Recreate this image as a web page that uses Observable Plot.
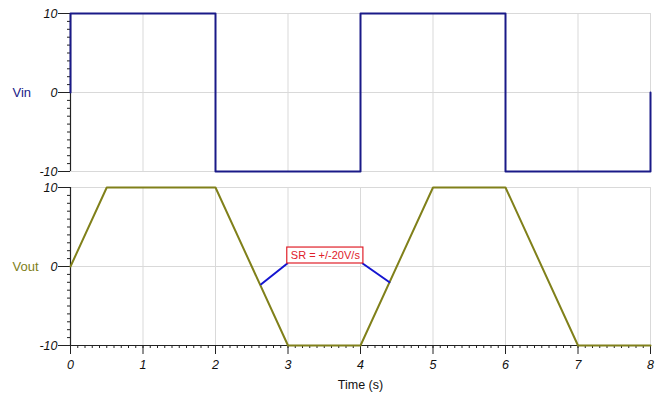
<!DOCTYPE html>
<html><head><meta charset="utf-8">
<script src="https://cdn.jsdelivr.net/npm/d3@7"></script>
<script src="https://cdn.jsdelivr.net/npm/@observablehq/plot@0.6"></script>
<style>
body{margin:0;background:#fff;font-family:"Liberation Sans",Arial,sans-serif;}
#wrap{position:relative;width:668px;height:399px;}
#topPanel,#botPanel{position:absolute;left:0;}
#topPanel{top:0}#botPanel{top:178px}
svg{overflow:visible}
</style></head><body>
<div id="wrap"><div id="topPanel"></div><div id="botPanel"></div></div>
<script>
// Data
const vinT = [0, 0, 2, 2, 4, 4, 6, 6, 8, 8];
const vinV = [0, 10, 10, -10, -10, 10, 10, -10, -10, 0];
const voutT = [0, 0.5, 2, 3, 4, 5, 6, 7, 8];
const voutV = [0, 10, 10, -10, -10, 10, 10, -10, -10];
const xTicks = [0, 1, 2, 3, 4, 5, 6, 7, 8];
const yTicks = [-10, 0, 10];
const xLabel = "Time (s)";
const annText = "SR = +/-20V/s";
const annBox = {x1: 2.99, x2: 4.04, y1: 0.38, y2: 2.4};
const leader1 = [[2.99, 0.38], [2.63, -2.25]];
const leader2 = [[4.03, 0.38], [4.4, -2.0]];

const vin = vinT.map((t, i) => ({t, v: vinV[i]}));
const vout = voutT.map((t, i) => ({t, v: voutV[i]}));
const minorX = d3.range(0, 80.5, 1).map(d => d / 10);
const minorY = d3.range(-10, 10.5, 1);
const navy = "#1a1a88", olive = "#80801a", grid = "#d9d9d9";
const fmt = d => String(d);

function common(label, labelColor) {
  return [
    Plot.ruleX(xTicks.slice(1), {stroke: grid, strokeWidth: 1}),
    Plot.ruleY(yTicks, {stroke: grid, strokeWidth: 1}),
    Plot.axisY({ticks: minorY, tickSize: 3, text: null, stroke: "#222", label: null}),
    Plot.axisY({ticks: yTicks, tickSize: 12, tickPadding: 1, tickFormat: fmt, fontSize: 12.5, fontStyle: "italic", fill: "#111", stroke: "#222", label: null}),
    Plot.ruleX([0], {stroke: "#222", strokeWidth: 1.2}),
    Plot.text([label], {frameAnchor: "left", dx: -58, textAnchor: "start", fill: labelColor, fontSize: 13})
  ];
}

const topChart = Plot.plot({
  width: 668, height: 178,
  marginLeft: 70, marginRight: 18, marginTop: 13, marginBottom: 7,
  x: {domain: [0, 8], axis: null},
  y: {domain: [-10, 10], axis: null},
  style: {fontFamily: "Liberation Sans, Arial, sans-serif", overflow: "visible"},
  marks: [
    ...common("Vin", navy),
    Plot.line(vin, {x: "t", y: "v", stroke: navy, strokeWidth: 2})
  ]
});
document.getElementById("topPanel").append(topChart);

const botChart = Plot.plot({
  width: 668, height: 221,
  marginLeft: 70, marginRight: 18, marginTop: 9, marginBottom: 54,
  x: {domain: [0, 8], axis: null},
  y: {domain: [-10, 10], axis: null},
  style: {fontFamily: "Liberation Sans, Arial, sans-serif", overflow: "visible"},
  marks: [
    ...common("Vout", olive),
    Plot.axisX({ticks: minorX, tickSize: 3, text: null, stroke: "#222", anchor: "bottom", label: null}),
    Plot.axisX({ticks: xTicks, tickSize: 9, tickPadding: 6, tickFormat: fmt, fontSize: 12.5, fontStyle: "italic", fill: "#111", stroke: "#222", anchor: "bottom", label: null}),
    Plot.text([xLabel], {frameAnchor: "bottom", dy: 43, fill: "#111", fontSize: 12.5}),
    Plot.ruleY([-10], {stroke: "#222", strokeWidth: 1.2}),
    Plot.line(vout, {x: "t", y: "v", stroke: olive, strokeWidth: 2}),
    Plot.line(leader1, {x: d => d[0], y: d => d[1], stroke: "#1515d0", strokeWidth: 2}),
    Plot.line(leader2, {x: d => d[0], y: d => d[1], stroke: "#1515d0", strokeWidth: 2}),
    Plot.rect([annBox], {x1: "x1", x2: "x2", y1: "y1", y2: "y2", fill: "white", stroke: "#e0202a", strokeWidth: 1.2}),
    Plot.text([annText], {x: (annBox.x1 + annBox.x2) / 2, y: (annBox.y1 + annBox.y2) / 2, fill: "#e0202a", fontSize: 11})
  ]
});
document.getElementById("botPanel").append(botChart);
</script>
</body></html>
